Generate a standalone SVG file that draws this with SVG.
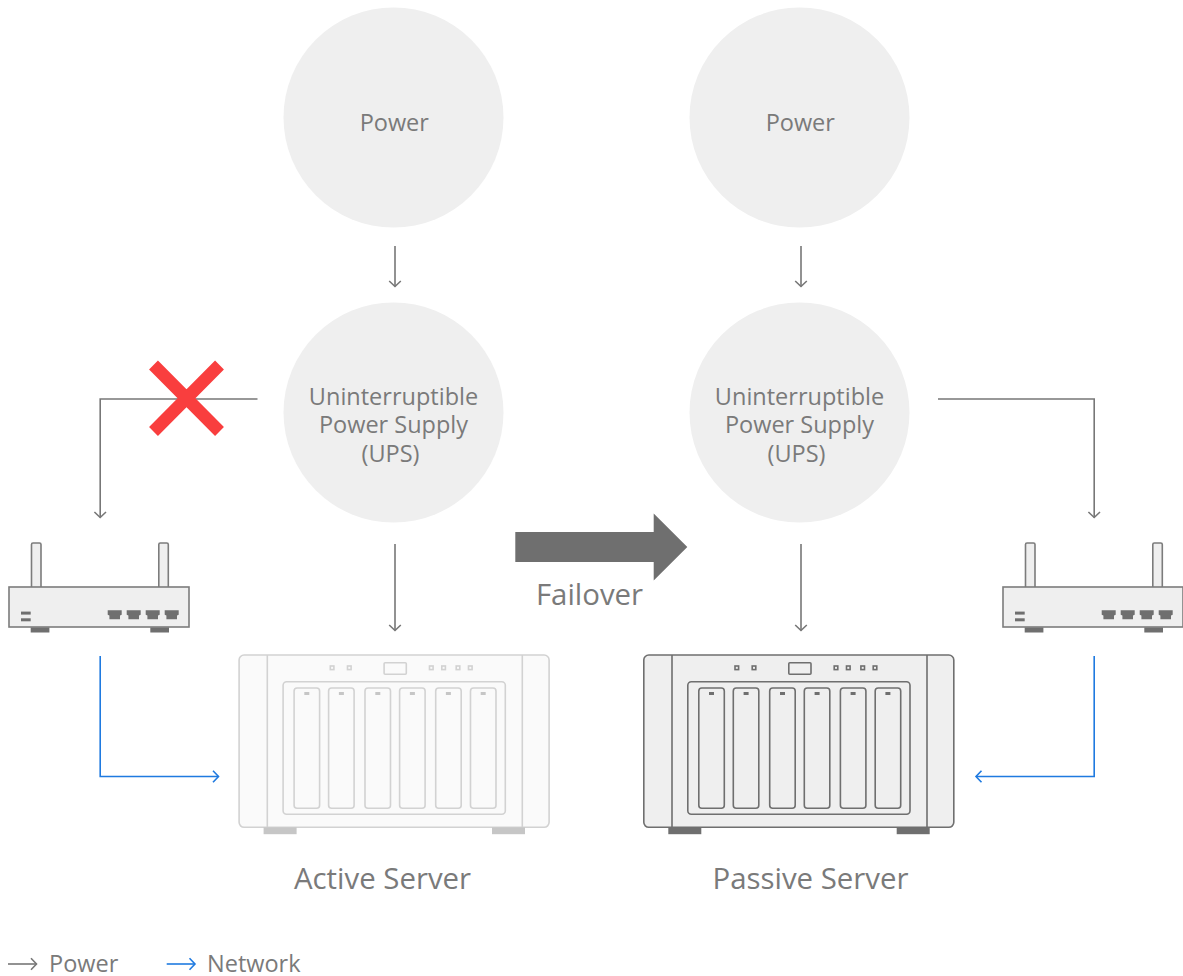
<svg xmlns="http://www.w3.org/2000/svg" xmlns:xlink="http://www.w3.org/1999/xlink" width="1183" height="976" viewBox="0 0 1183 976">
<style>
text{font-family:"Open Sans","Noto Sans","Liberation Sans",sans-serif;fill:#7a7a7a;text-anchor:middle}
.lb{font-size:23.5px}.lg{font-size:29.4px}.ll{font-size:23.5px;text-anchor:start}
.circle{fill:#efefef}
.pw{fill:none;stroke:#777;stroke-width:1.6;marker-end:url(#ap)}
.nw{fill:none;stroke:#1f7ae0;stroke-width:1.6;marker-end:url(#an)}
.s{fill:var(--sf);stroke:var(--st);stroke-width:1.6}
.f{fill:var(--ft)}
.act{--sf:#fafafa;--st:#d2d2d2;--ft:#c6c6c6}
.pas{--sf:#efefef;--st:#6f6f6f;--ft:#6f6f6f}
.rt{--sf:#efefef;--st:#7c7c7c;--ft:#6f6f6f}
</style>
<defs>
<marker id="ap" markerUnits="userSpaceOnUse" markerWidth="16" markerHeight="16" refX="12" refY="8" orient="auto"><path d="M6.5 2.2L12 8L6.5 13.8" fill="none" stroke="#777" stroke-width="1.6"/></marker>
<marker id="an" markerUnits="userSpaceOnUse" markerWidth="16" markerHeight="16" refX="12" refY="8" orient="auto"><path d="M6.5 2.2L12 8L6.5 13.8" fill="none" stroke="#1f7ae0" stroke-width="1.6"/></marker>
<g id="server">
<rect class="s" x="643.8" y="655" width="310" height="172.3" rx="5"/>
<path class="s" d="M672 655V827.3M927 655V827.3"/>
<rect class="f" x="668.3" y="827.3" width="33" height="6.9"/>
<rect class="f" x="896.7" y="827.3" width="33" height="6.9"/>
<rect class="s" x="687.8" y="681.8" width="222.2" height="132.5" rx="3.5"/>
<rect class="s" x="698.8" y="688" width="25.5" height="120.3" rx="3"/>
<rect class="s" x="733.3" y="688" width="25.5" height="120.3" rx="3"/>
<rect class="s" x="769.7" y="688" width="25.5" height="120.3" rx="3"/>
<rect class="s" x="804.3" y="688" width="25.5" height="120.3" rx="3"/>
<rect class="s" x="840.4" y="688" width="25.5" height="120.3" rx="3"/>
<rect class="s" x="875.2" y="688" width="25.5" height="120.3" rx="3"/>
<rect class="f" x="709" y="692" width="5" height="3"/>
<rect class="f" x="743.6" y="692" width="5" height="3"/>
<rect class="f" x="780" y="692" width="5" height="3"/>
<rect class="f" x="814.6" y="692" width="5" height="3"/>
<rect class="f" x="850.6" y="692" width="5" height="3"/>
<rect class="f" x="885.4" y="692" width="5" height="3"/>
<rect class="s" x="735" y="666" width="3.6" height="3.6"/>
<rect class="s" x="752.2" y="666" width="3.6" height="3.6"/>
<rect class="s" x="834.2" y="666" width="3.6" height="3.6"/>
<rect class="s" x="846.5" y="666" width="3.6" height="3.6"/>
<rect class="s" x="860.9" y="666" width="3.6" height="3.6"/>
<rect class="s" x="873.2" y="666" width="3.6" height="3.6"/>
<rect class="s" x="788.8" y="662.8" width="22.2" height="11.5" rx="1"/>
</g>
<g id="router">
<path class="s" d="M31.5 587V544.5q0-1.5 1.5-1.5h6.5q1.5 0 1.5 1.5V587M158.8 587V544.5q0-1.5 1.5-1.5h6.5q1.5 0 1.5 1.5V587"/>
<rect class="s" x="9" y="587" width="180" height="40"/>
<rect class="f" x="30.7" y="627.5" width="18.7" height="5"/>
<rect class="f" x="150.3" y="627.5" width="18.7" height="5"/>
<rect class="f" x="21" y="611.6" width="9.7" height="3"/>
<rect class="f" x="21" y="618.3" width="9.7" height="3"/>
<path class="f" d="M107.7 610.3H121.7V614.8L120 615.5V619.3H109.4V615.5L107.7 614.8Z"/>
<path class="f" d="M126.7 610.3H140.7V614.8L139 615.5V619.3H128.4V615.5L126.7 614.8Z"/>
<path class="f" d="M145.7 610.3H159.7V614.8L158 615.5V619.3H147.4V615.5L145.7 614.8Z"/>
<path class="f" d="M164.7 610.3H178.7V614.8L177 615.5V619.3H166.4V615.5L164.7 614.8Z"/>
</g>
</defs>

<g id="connectors">
<path class="pw" d="M395 246V286.5"/>
<path class="pw" d="M801 246V286.5"/>
<path class="pw" d="M257.5 399H100.2V517.5"/>
<path class="pw" d="M938 399H1094.2V517.5"/>
<path class="pw" d="M395 544V630.5"/>
<path class="pw" d="M801 544V630.5"/>
<path class="nw" d="M100.2 656V776.5H218.5"/>
<path class="nw" d="M1094.2 656V776.5H976"/>
</g>

<g id="power-left"><circle class="circle" cx="393.5" cy="117.5" r="110"/><text class="lb" x="394.3" y="130.5">Power</text></g>
<g id="power-right"><circle class="circle" cx="799.5" cy="117.5" r="110"/><text class="lb" x="800.3" y="130.5">Power</text></g>
<g id="ups-left"><circle class="circle" cx="393.5" cy="412.5" r="110"/><text class="lb" x="393.5" y="405">Uninterruptible</text><text class="lb" x="393.5" y="433">Power Supply</text><text class="lb" x="390.5" y="462">(UPS)</text></g>
<g id="ups-right"><circle class="circle" cx="799.5" cy="412.5" r="110"/><text class="lb" x="799.5" y="405">Uninterruptible</text><text class="lb" x="799.5" y="433">Power Supply</text><text class="lb" x="796.5" y="462">(UPS)</text></g>

<g id="fail-mark"><path d="M153.5 365L219.5 431.5M219.5 365L153.5 431.5" stroke="#f93e3e" stroke-width="12.5" fill="none"/></g>

<g id="failover"><path d="M515.3 532H653.7V513.6L687.3 547L653.7 580.4V562H515.3Z" fill="#6f6f6f"/><text class="lg" x="589.5" y="605">Failover</text></g>

<g id="router-left" class="rt"><use xlink:href="#router" href="#router"/></g>
<g id="router-right" class="rt"><use xlink:href="#router" href="#router" x="994"/></g>
<g id="active-server" class="act"><use xlink:href="#server" href="#server" x="-404.7"/><text class="lg" x="382.5" y="889">Active Server</text></g>
<g id="passive-server" class="pas"><use xlink:href="#server" href="#server"/><text class="lg" x="810.5" y="889">Passive Server</text></g>

<g id="legend">
<path class="pw" d="M8 964H36.5"/><text class="ll" x="49" y="971.5">Power</text>
<path class="nw" d="M166.7 964H195"/><text class="ll" x="207" y="971.5">Network</text>
</g>
</svg>
